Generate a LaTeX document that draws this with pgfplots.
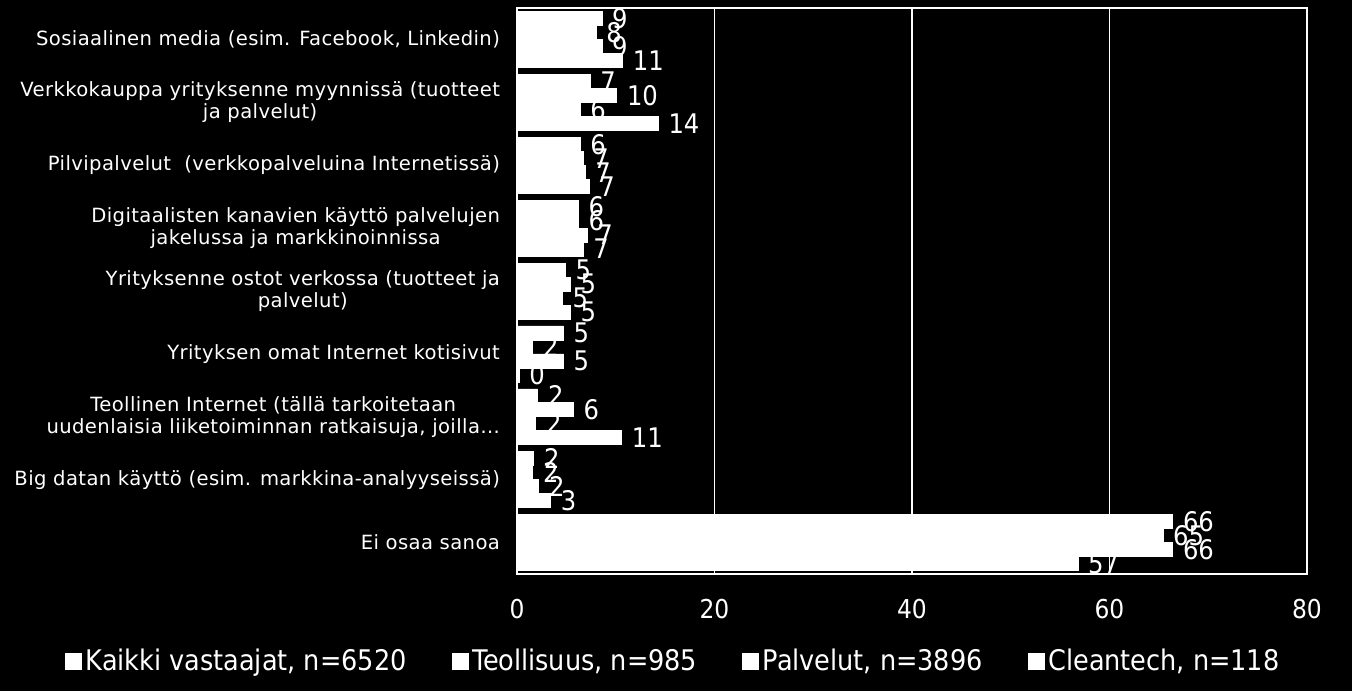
\documentclass[border=0pt]{standalone}
\usepackage{fontspec}
\setmainfont{DejaVu Sans Condensed}
\newfontfamily\catfont[LetterSpace=2]{DejaVu Sans}
\usepackage{pgfplots}
\pgfplotsset{compat=1.18}

\pgfplotstableread{
idx kaikki teoll palv clean
0   8.6    8.0   8.6   10.7
1   7.4    10.1  6.4   14.3
2   6.4    6.7   6.9   7.3
3   6.2    6.2   7.1   6.7
4   4.9    5.4   4.6   5.4
5   4.7    1.6   4.7   0.2
6   2.1    5.7   1.9   10.6
7   1.7    1.6   2.2   3.4
8   66.4   65.4  66.4  56.8
}\datatable

\begin{document}
\begin{tikzpicture}
% black page, sized like the reference (1 px = 0.5 pt)
\path[fill=black, use as bounding box] (-258.5pt,-58.5pt) rectangle (417.5pt,287pt);
\begin{axis}[
    at={(0,0)}, anchor=south west,
    scale only axis,
    width=395pt, height=283pt,
    xbar=0pt,
    bar width=0.2225,
    y dir=reverse,
    xmin=0, xmax=80,
    ymin=-0.5, ymax=8.5,
    xtick={0,20,40,60,80},
    ytick={0,...,8},
    yticklabels={
        Sosiaalinen media (esim. Facebook{,} Linkedin),
        {Verkkokauppa yrityksenne myynnissä (tuotteet\\ja palvelut)},
        Pilvipalvelut \ (verkkopalveluina Internetissä),
        {Digitaalisten kanavien käyttö palvelujen\\jakelussa ja markkinoinnissa},
        {Yrityksenne ostot verkossa (tuotteet ja\\palvelut)},
        Yrityksen omat Internet kotisivut,
        {Teollinen Internet (tällä tarkoitetaan\\uudenlaisia liiketoiminnan ratkaisuja{,} joilla…},
        Big datan käyttö (esim. markkina-analyyseissä),
        Ei osaa sanoa},
    axis line style={white, line width=0.6pt},
    major tick length=0pt,
    xmajorgrids=true,
    grid style={white, line width=0.6pt},
    /pgf/number format/assume math mode=true,
    xticklabel style={text=white, font=\fontsize{13}{15}\selectfont, yshift=-9pt},
    yticklabel style={text=white, align=center, font=\catfont\fontsize{9.8}{11}\selectfont, xshift=-5pt},
    nodes near coords={\pgfmathprintnumber[fixed,precision=0]{\pgfplotspointmeta}},
    point meta=x,
    every node near coord/.append style={text=white, font=\fontsize{13.5}{15}\selectfont, inner sep=2pt, xshift=3pt},
    legend columns=4,
    legend style={draw=none, fill=none, text=white,
        font=\fontsize{14.2}{16}\selectfont,
        at={(-0.58,-0.154)}, anchor=west,
        /tikz/every even column/.append style={column sep=20.5pt}},
    legend image code/.code={\fill[white] (0pt,-4pt) rectangle (8pt,4pt);},
]
\addplot[fill=white, draw=white, line width=0.3pt] table[x=kaikki, y=idx] {\datatable};
\addplot[fill=white, draw=white, line width=0.3pt] table[x=teoll, y=idx] {\datatable};
\addplot[fill=white, draw=white, line width=0.3pt] table[x=palv, y=idx] {\datatable};
\addplot[fill=white, draw=white, line width=0.3pt] table[x=clean, y=idx] {\datatable};
\legend{Kaikki vastaajat{,} n=6520, Teollisuus{,} n=985, Palvelut{,} n=3896, Cleantech{,} n=118}
\end{axis}
\end{tikzpicture}
\end{document}
